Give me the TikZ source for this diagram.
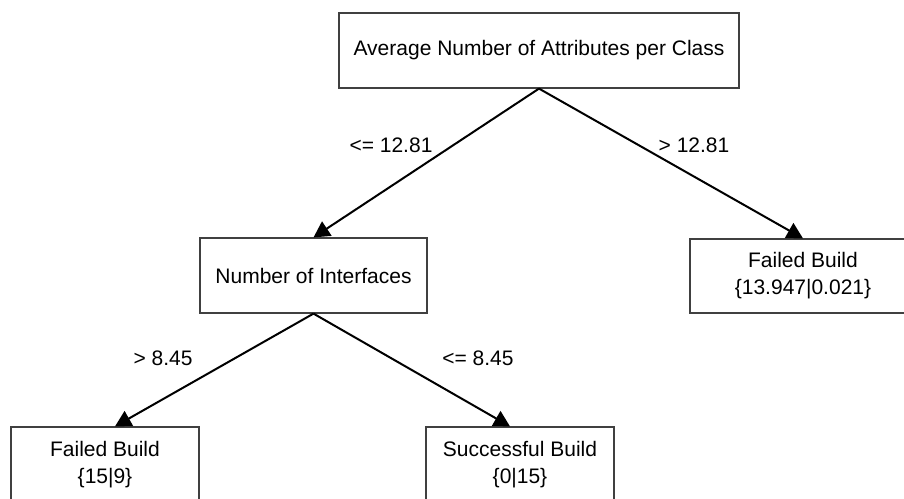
\documentclass[tikz,border=0pt]{standalone}
\usepackage{fontspec}
\setmainfont{Liberation Sans}
\usetikzlibrary{arrows.meta}
\begin{document}
\begin{tikzpicture}[x=1pt,y=-1pt,
  box/.style={draw=black!75, line width=1.2pt, fill=white, inner sep=0pt, align=center, font=\fontsize{21}{27}\selectfont},
  lbl/.style={inner sep=0pt, font=\fontsize{21}{27}\selectfont},
  conn/.style={line width=2pt, -{Triangle[length=16pt,width=17pt]}}]
\useasboundingbox (0,0) rectangle (904,498);
\node[box, minimum width=400pt, minimum height=75pt] (root) at (539,50.5) {Average Number of Attributes per Class};
\node[box, minimum width=227pt, minimum height=75pt] (ni) at (313.5,275.5) {Number of Interfaces};
\node[box, minimum width=226pt, minimum height=74pt] (rl) at (803,276) {Failed Build\\\{13.947|0.021\}};
\node[box, minimum width=188pt, minimum height=75pt] (ll) at (105,464.5) {Failed Build\\\{15|9\}};
\node[box, minimum width=188pt, minimum height=75pt] (ml) at (520,464.5) {Successful Build\\\{0|15\}};
\draw[conn] (root.south) -- (ni.north);
\draw[conn] (root.south) -- (rl.north);
\draw[conn] (ni.south) -- ([xshift=10pt]ll.north);
\draw[conn] (ni.south) -- ([xshift=-10pt]ml.north);
\node[lbl] (l1) at (391,145) {<= 12.81};
\node[lbl] (l2) at (694,145) {> 12.81};
\node[lbl] (l3) at (163,358) {> 8.45};
\node[lbl] (l4) at (478,358) {<= 8.45};
\end{tikzpicture}
\end{document}
